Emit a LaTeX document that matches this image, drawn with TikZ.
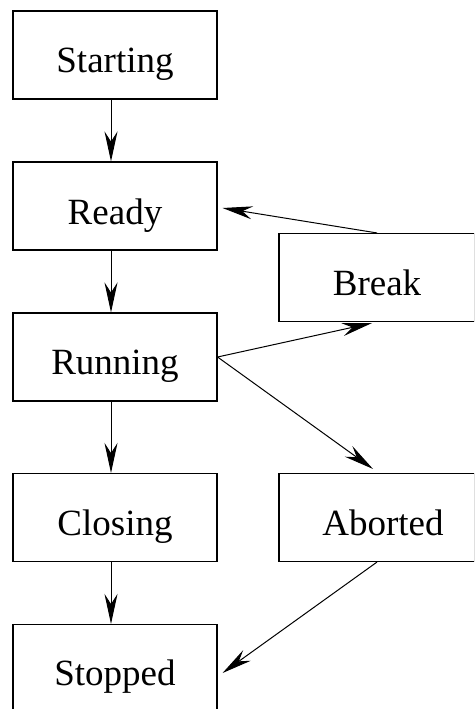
\documentclass[tikz,border=0pt]{standalone}
\usepackage{fontspec}
\setmainfont{Liberation Serif}
\usetikzlibrary{arrows.meta}
\begin{document}
\begin{tikzpicture}[x=1pt,y=-1pt,
  state/.style={draw, line width=1.1pt, minimum width=204pt, minimum height=88pt,
    inner sep=0pt, font=\fontsize{37}{44}\selectfont},
  wide/.style={state, minimum width=196pt},
  flow/.style={line width=1pt, -{Stealth[length=30pt, width=13pt, inset=10pt]}}]
\useasboundingbox (0,0) rectangle (474,709);
\clip (0,0) rectangle (474,709);

% states of the left column
\node[state] (start)   at (115,55)    {};
\node[state] (ready)   at (115,206)   {};
\node[state] (running) at (115,357)   {};
\node[state] (closing) at (115,517.5) {};
\node[state] (stopped) at (115,668.5) {};
% states of the right column
\node[wide] (brk)     at (377,277.5) {};
\node[wide] (aborted) at (377,517.5) {};

% labels, set on a common baseline inside each box
\begin{scope}[every node/.style={anchor=base, font=\fontsize{37}{44}\selectfont, inner sep=0pt}]
\node (tstart)   at ([yshift=-18pt]start.center)   {Starting};
\node (tready)   at ([yshift=-18pt]ready.center)   {Ready};
\node (trunning) at ([yshift=-17pt]running.center) {Running};
\node (tclosing) at ([yshift=-17.5pt]closing.center) {Closing};
\node (tstopped) at ([yshift=-16.5pt]stopped.center) {Stopped};
\node (tbrk)     at ([yshift=-17.5pt]brk.center)     {Break};
\node (taborted) at ([xshift=6pt,yshift=-17.5pt]aborted.center) {Aborted};
\end{scope}

% transitions
\draw[flow] ([xshift=-4pt]start.south)   -- ([xshift=-4pt]ready.north);
\draw[flow] ([xshift=-4pt]ready.south)   -- ([xshift=-4pt]running.north);
\draw[flow] ([xshift=-4pt]running.south) -- ([xshift=-4pt]closing.north);
\draw[flow] ([xshift=-4pt]closing.south) -- ([xshift=-4pt]stopped.north);
\draw[flow] (brk.north) -- ([xshift=5pt,yshift=-2pt]ready.east);
\draw[flow] (running.east) -- ([xshift=-5pt,yshift=-1pt]brk.south);
\draw[flow] (running.east) -- ([xshift=-4pt,yshift=4pt]aborted.north);
\draw[flow] (aborted.south) -- ([xshift=5pt,yshift=-4.5pt]stopped.east);
\end{tikzpicture}
\end{document}
